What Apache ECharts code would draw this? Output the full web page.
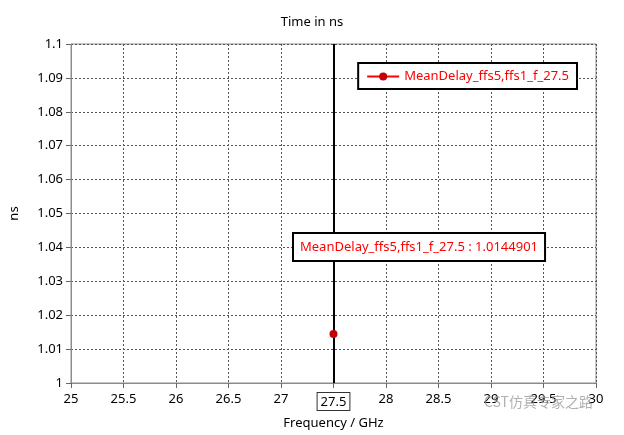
<!DOCTYPE html>
<html><head><meta charset="utf-8">
<script src="https://cdn.jsdelivr.net/npm/echarts@6/dist/echarts.min.js"></script>
<style>html,body{margin:0;padding:0;background:#fff}#c{width:624px;height:435px}</style>
</head><body><div id="c"></div>
<script>
const seriesName = 'MeanDelay_ffs5,ffs1_f_27.5';
const freq = [27.5];
const delay = [1.0144901];
const markerX = 27.5;
const xMin = 25, xMax = 30, xStep = 0.5;
const yMin = 1, yMax = 1.1, yStep = 0.01;

const chart = echarts.init(document.getElementById('c'));
const font = 'Noto Sans';
chart.setOption({
  animation: false,
  title: { text: 'Time in ns', left: 'center', top: 11,
    textStyle: { fontFamily: font, fontSize: 13, fontWeight: 'normal', color: '#000' } },
  grid: { left: 70, right: 28, top: 44, bottom: 52, show: true, borderColor: '#8c8c8c', borderWidth: 1 },
  legend: {
    data: [seriesName], right: 47, top: 63, orient: 'vertical',
    backgroundColor: '#fff', borderColor: '#000', borderWidth: 2, borderRadius: 0,
    padding: [7, 8, 6, 8], itemWidth: 32, itemHeight: 10,
    textStyle: { fontFamily: font, fontSize: 13, color: '#ff0000' }
  },
  xAxis: {
    type: 'value', min: xMin, max: xMax, interval: xStep,
    name: 'Frequency / GHz', nameLocation: 'middle', nameGap: 34,
    nameTextStyle: { fontFamily: font, fontSize: 13, color: '#000' },
    axisLine: { lineStyle: { color: '#8c8c8c' } },
    axisTick: { show: true, length: 5, lineStyle: { color: '#666' } },
    axisLabel: { fontFamily: font, fontSize: 13, color: '#000', margin: 10,
      formatter: v => v === markerX ? '{b|' + v + '}' : String(v),
      rich: { b: { fontFamily: font, fontSize: 13, color: '#000', borderColor: '#333', borderWidth: 1, padding: [3, 3, 1, 3], backgroundColor: '#fff' } } },
    splitLine: { show: true, lineStyle: { type: [2, 2], color: '#555' } }
  },
  yAxis: {
    type: 'value', min: yMin, max: yMax, interval: yStep,
    name: 'ns', nameLocation: 'middle', nameGap: 50, nameRotate: 90,
    nameTextStyle: { fontFamily: font, fontSize: 13, color: '#000' },
    axisLine: { show: true, lineStyle: { color: '#8c8c8c' } },
    axisTick: { show: true, length: 5, lineStyle: { color: '#666' } },
    axisLabel: { fontFamily: font, fontSize: 13, color: '#000', margin: 8,
      formatter: v => String(+v.toFixed(2)) },
    splitLine: { show: true, lineStyle: { type: [2, 2], color: '#555' } }
  },
  series: [{
    name: seriesName, type: 'line',
    data: freq.map((f, i) => [f, delay[i]]),
    symbol: 'circle', symbolSize: 8,
    lineStyle: { color: '#ff0000', width: 2 },
    itemStyle: { color: '#c40000' },
    z: 5,
    markLine: {
      silent: true, symbol: 'none', animation: false,
      label: { show: false },
      lineStyle: { color: '#000', width: 2, type: 'solid' },
      data: [{ xAxis: markerX }]
    }
  }],
  graphic: [
    { type: 'text', left: 292, top: 232, z: 10,
      style: { text: seriesName + ' : ' + delay[0], fontFamily: font, fontSize: 13, fill: '#ff0000',
        backgroundColor: '#fff', borderColor: '#000', borderWidth: 2, padding: [7, 6, 6, 6] } },
    { type: 'text', left: 484, top: 395, z: 10,
      style: { text: 'CST仿真专家之路', fontFamily: 'Noto Sans CJK SC', fontSize: 14, fill: 'rgba(150,150,150,0.75)' } }
  ]
});
</script></body></html>
